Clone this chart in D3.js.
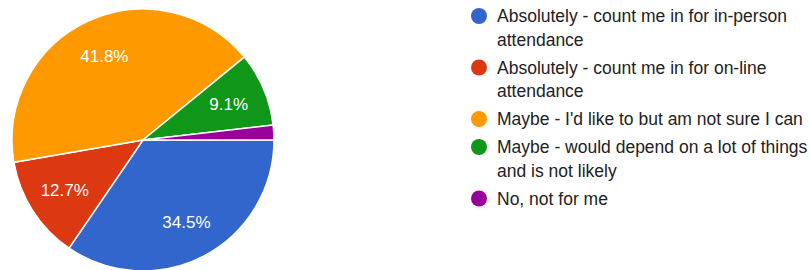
<!DOCTYPE html>
<html>
<head>
<meta charset="utf-8">
<script src="https://cdn.jsdelivr.net/npm/d3@7"></script>
<style>
  body { margin: 0; background: #fff; }
  svg { display: block; font-family: Arial, "Liberation Sans", sans-serif; }
</style>
</head>
<body>
<script>
// answers and how many people picked each
const categories = [
  ['Absolutely - count me in for in-person', 'attendance'],
  ['Absolutely - count me in for on-line', 'attendance'],
  ["Maybe - I'd like to but am not sure I can"],
  ['Maybe - would depend on a lot of things', 'and is not likely'],
  ['No, not for me'],
];
const counts = [19, 7, 23, 5, 1];
const colors = ['#3366cc', '#dc3912', '#ff9900', '#109618', '#990099'];

const width = 810;
const height = 270;

const svg = d3
  .select('body')
  .append('svg')
  .attr('width', width)
  .attr('height', height);

const cx = 143;
const cy = 140;
const radius = 131;
const total = d3.sum(counts);

const pie = d3
  .pie()
  .sort(null)
  .startAngle(Math.PI / 2)
  .endAngle(Math.PI / 2 + 2 * Math.PI);

const arc = d3.arc().innerRadius(0).outerRadius(radius);
const labelArc = d3
  .arc()
  .innerRadius(radius * 0.71)
  .outerRadius(radius * 0.71);

const slices = pie(counts);

const chart = svg
  .append('g')
  .attr('transform', `translate(${cx},${cy})`);

chart
  .selectAll('.slice')
  .data(slices)
  .enter()
  .append('path')
  .attr('class', 'slice')
  .attr('d', arc)
  .attr('fill', (d, i) => colors[i])
  .attr('stroke', '#fff')
  .attr('stroke-width', 1.5);

chart
  .selectAll('.pct')
  .data(slices.filter((d) => d.value / total > 0.05))
  .enter()
  .append('text')
  .attr('class', 'pct')
  .attr('transform', (d) => `translate(${labelArc.centroid(d)})`)
  .attr('text-anchor', 'middle')
  .attr('dy', '0.36em')
  .attr('fill', '#fff')
  .style('font-size', '17px')
  .text((d) => `${((d.value / total) * 100).toFixed(1)}%`);

// legend
const lineHeight = 23.5;
const itemGap = 4.5;
let y = 16;
const legend = svg.append('g');

categories.forEach((lines, i) => {
  const item = legend.append('g').attr('transform', `translate(0,${y})`);
  item
    .append('circle')
    .attr('cx', 479)
    .attr('cy', 0)
    .attr('r', 8)
    .attr('fill', colors[i]);
  item
    .selectAll('text')
    .data(lines)
    .enter()
    .append('text')
    .attr('x', 497)
    .attr('y', (d, j) => j * lineHeight)
    .attr('dy', '0.36em')
    .attr('fill', '#222')
    .style('font-size', '17.5px')
    .text((d) => d);
  y += lines.length * lineHeight + itemGap;
});
</script>
</body>
</html>
